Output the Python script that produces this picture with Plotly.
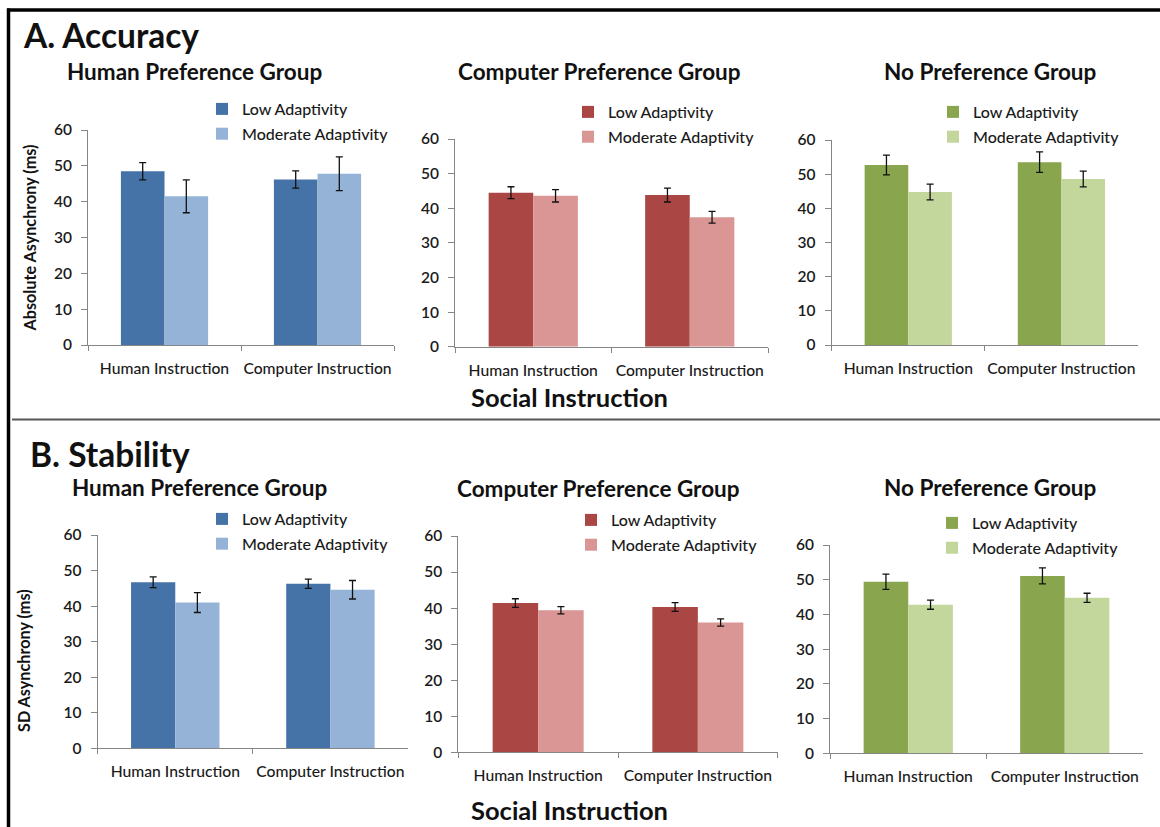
import plotly.graph_objects as go

# ---- data -------------------------------------------------------------
groups = ["Human Preference Group", "Computer Preference Group", "No Preference Group"]
categories = ["Human Instruction", "Computer Instruction"]
series = ["Low Adaptivity", "Moderate Adaptivity"]

# Accuracy: absolute asynchrony (ms), one row per preference group
accuracy_low = [[48.5, 46.2], [44.5, 43.8], [52.7, 53.5]]
accuracy_low_err = [[2.4, 2.4], [1.7, 2.0], [2.9, 3.0]]
accuracy_mod = [[41.5, 47.8], [43.6, 37.4], [44.8, 48.6]]
accuracy_mod_err = [[4.6, 4.7], [1.8, 1.7], [2.3, 2.3]]

# Stability: SD asynchrony (ms), one row per preference group
stability_low = [[46.7, 46.3], [41.4, 40.3], [49.4, 51.1]]
stability_low_err = [[1.5, 1.3], [1.2, 1.2], [2.2, 2.3]]
stability_mod = [[41.0, 44.6], [39.4, 36.0], [42.8, 44.8]]
stability_mod_err = [[2.8, 2.6], [1.0, 1.0], [1.3, 1.3]]

y_ticks = [0, 10, 20, 30, 40, 50, 60]

# ---- styling ----------------------------------------------------------
W, H = 1160, 827
FONT = "Lato"
low_colors = ["#4572A7", "#AA4643", "#89A54E"]
mod_colors = ["#95B3D7", "#D99694", "#C3D69B"]
axis_color = "#868686"
text_color = "#1a1a1a"


def fx(p):
    return p / W


def fy(p):
    return 1 - p / H


# plot areas in pixels: (left, right, top, bottom)
boxes = [
    (88, 394, 130, 345),
    (455, 768, 139, 346.7),
    (831.7, 1138, 140, 345),
    (97.7, 408, 535, 748.3),
    (458.3, 777.7, 536, 752.3),
    (830, 1143, 545, 753.3),
]
# legend anchor (left of legend box, top of box) in pixels
legend_pos = [(202, 92), (568, 95), (933, 95), (202, 502), (571, 503), (932, 506)]
title_pos = [(194.5, 71), (599.5, 72), (989.5, 72), (199.5, 487), (599, 488), (989.5, 487)]

fig = go.Figure()

panels = [
    (accuracy_low, accuracy_low_err, accuracy_mod, accuracy_mod_err),
    (stability_low, stability_low_err, stability_mod, stability_mod_err),
]

layout = {}
k = 0
for row, (lo, lo_e, md, md_e) in enumerate(panels):
    for g in range(3):
        k += 1
        sfx = "" if k == 1 else str(k)
        leg = "legend" if k == 1 else f"legend{k}"
        xa, ya = f"x{sfx}", f"y{sfx}"
        for name, vals, errs, col in (
            (series[0], lo[g], lo_e[g], low_colors[g]),
            (series[1], md[g], md_e[g], mod_colors[g]),
        ):
            fig.add_trace(go.Bar(
                x=categories, y=vals, name=name,
                marker=dict(color=col, line=dict(width=0)),
                error_y=dict(type="data", array=errs, visible=True,
                             color="#111111", thickness=1.3, width=3.5),
                xaxis=xa, yaxis=ya, legend=leg, legendgroup=f"{k}-{name}",
            ))
        l, r, t, b = boxes[k - 1]
        layout[f"xaxis{sfx}"] = dict(
            domain=[fx(l), fx(r)], anchor=ya, type="category",
            range=[-0.5, 1.5], showline=True, linecolor=axis_color, linewidth=1,
            ticks="outside", tickson="boundaries", ticklen=5, tickcolor=axis_color,
            showgrid=False, zeroline=False, ticklabelstandoff=9, tickangle=0,
            tickfont=dict(family=FONT, size=15.7, color=text_color, weight=500),
        )
        layout[f"yaxis{sfx}"] = dict(
            domain=[fy(b), fy(t)], anchor=xa, range=[0, 60],
            tickvals=y_ticks, showline=True, linecolor=axis_color, linewidth=1,
            ticks="outside", ticklen=6, tickcolor=axis_color,
            showgrid=False, zeroline=False, ticklabelstandoff=6,
            tickfont=dict(family=FONT, size=15.5, color=text_color, weight=600),
        )
        lx, ly = legend_pos[k - 1]
        layout[leg] = dict(
            x=fx(lx), y=fy(ly), xanchor="left", yanchor="top",
            bgcolor="rgba(0,0,0,0)", tracegroupgap=1, itemwidth=30,
            font=dict(family=FONT, size=16, color=text_color, weight=500),
        )

fig.update_layout(**layout)

annotations = []
for (cx, cy), name in zip(title_pos, groups + groups):
    annotations.append(dict(
        text=f"<b>{name}</b>", x=fx(cx), y=fy(cy), xref="paper", yref="paper",
        xanchor="center", yanchor="middle", showarrow=False,
        font=dict(family=FONT, size=22.5, color="#111111"),
    ))

annotations += [
    dict(text="<b>A. Accuracy</b>", x=fx(21), y=fy(35), xanchor="left"),
    dict(text="<b>B. Stability</b>", x=fx(28), y=fy(454), xanchor="left"),
]
for a in annotations[-2:]:
    a.update(xref="paper", yref="paper", yanchor="middle", showarrow=False,
             font=dict(family=FONT, size=33.5, color="#111111"))

for cy in (397, 810):
    annotations.append(dict(
        text="<b>Social Instruction</b>", x=fx(569), y=fy(cy),
        xref="paper", yref="paper", xanchor="center", yanchor="middle",
        showarrow=False, font=dict(family=FONT, size=25.5, color="#111111"),
    ))

for text, cx, cy in (("Absolute Asynchrony (ms)", 28.5, 238), ("SD Asynchrony (ms)", 23, 661)):
    annotations.append(dict(
        text=f"<b>{text}</b>", x=fx(cx), y=fy(cy), xref="paper", yref="paper",
        xanchor="center", yanchor="middle", textangle=-90, showarrow=False,
        font=dict(family=FONT, size=16.2, color="#111111"),
    ))

shapes = [
    # frame: top and left rules
    dict(type="line", xref="paper", yref="paper", x0=fx(7), x1=1, y0=fy(10), y1=fy(10),
         line=dict(color="#000000", width=3.5)),
    dict(type="line", xref="paper", yref="paper", x0=fx(8.5), x1=fx(8.5), y0=fy(8.5), y1=0,
         line=dict(color="#000000", width=3.5)),
    # divider between the two panels
    dict(type="line", xref="paper", yref="paper", x0=fx(12), x1=1, y0=fy(419.5), y1=fy(419.5),
         line=dict(color="#555555", width=2)),
]

fig.update_layout(
    width=W, height=H,
    margin=dict(l=0, r=0, t=0, b=0, pad=0, autoexpand=False),
    paper_bgcolor="white", plot_bgcolor="white",
    barmode="group", bargap=0.43, bargroupgap=0,
    annotations=annotations, shapes=shapes,
    font=dict(family=FONT),
)

fig.write_html("out.html")
